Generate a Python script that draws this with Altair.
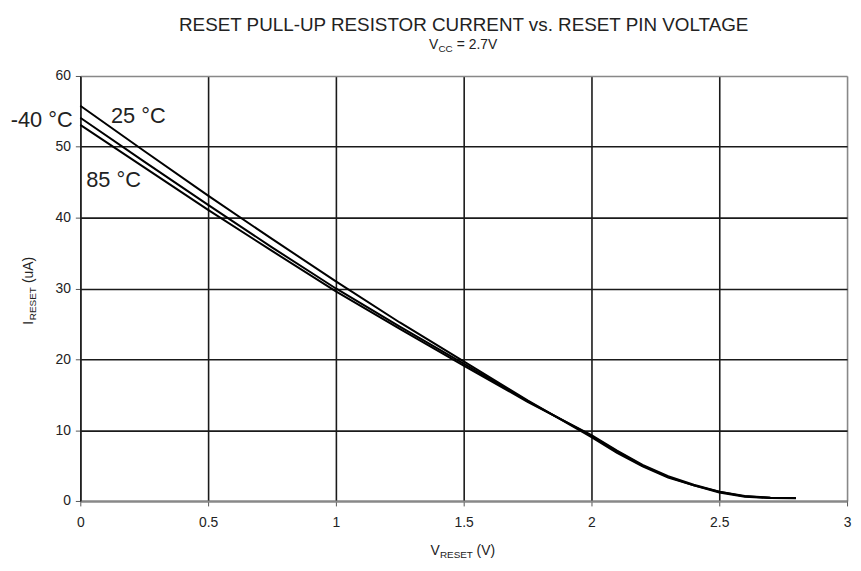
import altair as alt
import pandas as pd

# ---- data ----
v_reset = [0, 0.25, 0.5, 0.75, 1.0, 1.25, 1.5, 1.75, 2.0, 2.1, 2.2, 2.3, 2.4, 2.5, 2.6, 2.7, 2.8]
i_25 = [55.8, 49.4, 43.1, 37.0, 31.0, 25.2, 19.7, 14.2, 9.0, 6.8, 4.9, 3.3, 2.2, 1.3, 0.7, 0.45, 0.4]
i_m40 = [54.1, 47.9, 41.8, 35.8, 30.0, 24.6, 19.4, 14.1, 9.2, 7.0, 5.0, 3.4, 2.2, 1.2, 0.6, 0.42, 0.38]
i_85 = [53.1, 47.1, 41.1, 35.3, 29.6, 24.3, 19.1, 14.0, 9.3, 7.1, 5.1, 3.5, 2.3, 1.3, 0.65, 0.45, 0.4]
series_names = ["25 °C", "-40 °C", "85 °C"]

label_text = ["25 °C", "-40 °C", "85 °C"]
label_x = [0.12, -0.03, 0.023]
label_y = [54.4, 53.8, 45.3]
label_align = ["left", "right", "left"]

x_ticks = [0, 0.5, 1, 1.5, 2, 2.5, 3]
y_ticks = [0, 10, 20, 30, 40, 50, 60]

rows = []
for name, vals in zip(series_names, [i_25, i_m40, i_85]):
    for x, y in zip(v_reset, vals):
        rows.append({"series": name, "v": x, "i": y})
df = pd.DataFrame(rows)
labels = pd.DataFrame({"t": label_text, "x": label_x, "y": label_y, "al": label_align})

FONT = "Liberation Sans"
W, H = 774, 429
INK = "#222222"

xscale = alt.Scale(domain=[0, 3], nice=False)
yscale = alt.Scale(domain=[0, 60], nice=False)

grid_x = alt.condition("datum.value == 3", alt.value("#888888"), alt.value("#1a1a1a"))
grid_y = alt.condition("datum.value == 60", alt.value("#888888"), alt.value("#1a1a1a"))

lines = alt.Chart(df).mark_line(color="black", strokeWidth=2, clip=False).encode(
    x=alt.X("v:Q", scale=xscale,
            axis=alt.Axis(values=x_ticks, format="~g", title=None, grid=True, gridColor=grid_x,
                          gridWidth=1.6, domainColor="#888888", domainWidth=2,
                          tickColor="#555555", tickSize=5,
                          labelFont=FONT, labelFontSize=14, labelColor=INK, labelPadding=10,
                          labelFlush=False)),
    y=alt.Y("i:Q", scale=yscale,
            axis=alt.Axis(values=y_ticks, title=None, grid=True, gridColor=grid_y, gridWidth=1.6,
                          domainColor=INK, domainWidth=1.5, tickColor="#555555", tickSize=5,
                          labelFont=FONT, labelFontSize=14, labelColor=INK, labelPadding=5)),
    detail="series:N",
)

lab_left = alt.Chart(labels).transform_filter("datum.al == 'left'").mark_text(
    font=FONT, fontSize=22, color=INK, align="left", baseline="middle").encode(
    x=alt.X("x:Q", scale=xscale), y=alt.Y("y:Q", scale=yscale), text="t:N")
lab_right = alt.Chart(labels).transform_filter("datum.al == 'right'").mark_text(
    font=FONT, fontSize=22, color=INK, align="right", baseline="middle").encode(
    x=alt.X("x:Q", scale=xscale), y=alt.Y("y:Q", scale=yscale), text="t:N")

one = pd.DataFrame({"a": [0]})

def txt(s, x, y, size, align="left", angle=0, baseline="alphabetic"):
    kw = dict(font=FONT, fontSize=size, color=INK, align=align, baseline=baseline, text=s)
    if angle:
        kw["angle"] = angle
    return alt.Chart(one).mark_text(**kw).encode(x=alt.value(x), y=alt.value(y))

title = txt("RESET PULL-UP RESISTOR CURRENT vs. RESET PIN VOLTAGE", W / 2, -45, 19, align="center")
sub = (txt("V", 352, -27, 14) + txt("CC", 361.5, -24, 10) + txt("= 2.7V", 380, -27, 14))
xt = (txt("V", 353.5, 484, 14) + txt("RESET", 363, 487, 10) + txt("(V)", 400, 484, 14))
yt = (txt("I", -48, 251, 14, angle=270) + txt("RESET", -45, 246.5, 10, angle=270)
      + txt("(uA)", -48, 209, 14, angle=270))

chart = alt.layer(lines, lab_left, lab_right, title, sub, xt, yt).properties(
    width=W, height=H,
    autosize=alt.AutoSizeParams(type="none"),
    padding={"left": 73, "top": 66, "right": 6, "bottom": 60},
).configure_view(stroke="#888888", strokeWidth=2).configure(background="white")

chart.save("out.html", embed_options={"renderer": "svg", "actions": False})
